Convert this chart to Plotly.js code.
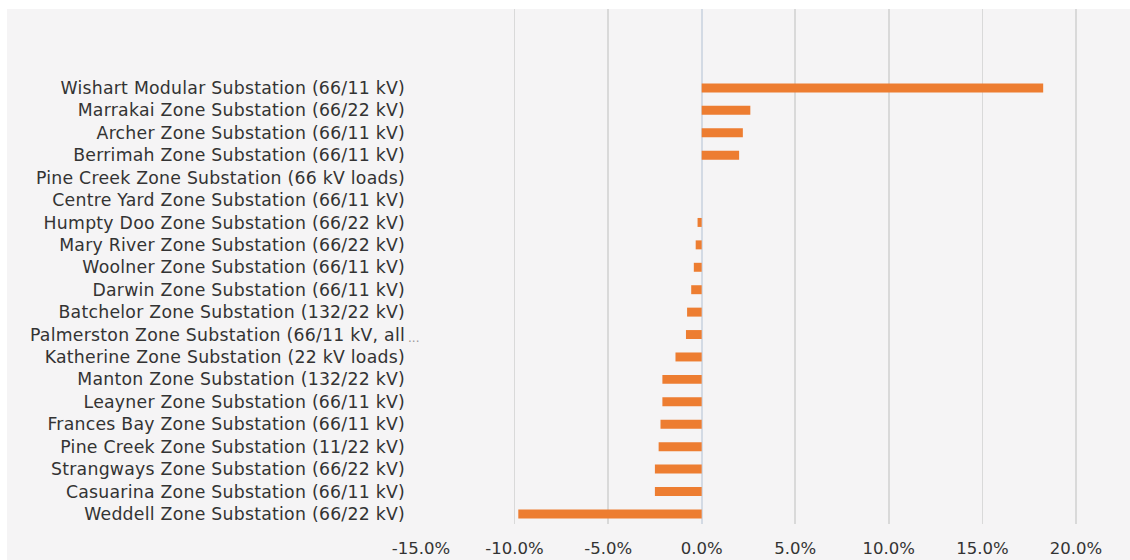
<!DOCTYPE html>
<html>
<head>
<meta charset="utf-8">
<script src="https://cdn.plot.ly/plotly-3.0.1.min.js"></script>
<style>
  html, body { margin: 0; padding: 0; background: #ffffff; }
  #chart { position: absolute; left: 7px; top: 9px; width: 1123px; height: 551px; }
  #chart .ytick text { letter-spacing: 0.25px; }
</style>
</head>
<body>
<div id="chart"></div>
<script>
// Substations, listed top to bottom
const substations = [
  "Wishart Modular Substation (66/11 kV)",
  "Marrakai Zone Substation (66/22 kV)",
  "Archer Zone Substation (66/11 kV)",
  "Berrimah Zone Substation (66/11 kV)",
  "Pine Creek Zone Substation (66 kV loads)",
  "Centre Yard Zone Substation (66/11 kV)",
  "Humpty Doo Zone Substation (66/22 kV)",
  "Mary River Zone Substation (66/22 kV)",
  "Woolner Zone Substation (66/11 kV)",
  "Darwin Zone Substation (66/11 kV)",
  "Batchelor Zone Substation (132/22 kV)",
  "Palmerston Zone Substation (66/11 kV, all",
  "Katherine Zone Substation (22 kV loads)",
  "Manton Zone Substation (132/22 kV)",
  "Leayner Zone Substation (66/11 kV)",
  "Frances Bay Zone Substation (66/11 kV)",
  "Pine Creek Zone Substation (11/22 kV)",
  "Strangways Zone Substation (66/22 kV)",
  "Casuarina Zone Substation (66/11 kV)",
  "Weddell Zone Substation (66/22 kV)"
];

// Change, in percent
const changePct = [
  18.25, 2.6, 2.2, 2.0, 0, 0, -0.22, -0.32, -0.42, -0.56,
  -0.78, -0.84, -1.4, -2.1, -2.1, -2.2, -2.3, -2.5, -2.5, -9.8
];

// Axis ticks
const tickValues = [-15, -10, -5, 0, 5, 10, 15, 20];
const tickLabels = ["-15.0%", "-10.0%", "-5.0%", "0.0%", "5.0%", "10.0%", "15.0%", "20.0%"];

const bg = "#f5f4f5";
const textColor = "#333333";

const trace = {
  type: "bar",
  orientation: "h",
  y: substations,
  x: changePct,
  marker: { color: "#ed7d31" },
  hoverinfo: "y+x"
};

const layout = {
  width: 1123,
  height: 551,
  paper_bgcolor: bg,
  plot_bgcolor: bg,
  margin: { l: 414, r: 0, t: 0, b: 36 },
  bargap: 0.6,
  showlegend: false,
  font: { family: "DejaVu Sans, sans-serif", color: textColor },
  xaxis: {
    range: [-15, 22.89],
    tickvals: tickValues,
    ticktext: tickLabels,
    showgrid: true,
    gridcolor: "#d9d9d9",
    gridwidth: 1.5,
    zeroline: true,
    zerolinecolor: "#d3dae4",
    zerolinewidth: 2,
    showline: false,
    ticks: "",
    ticklabelstandoff: 12,
    tickfont: { family: "DejaVu Sans, sans-serif", size: 16.5, color: textColor },
    fixedrange: true
  },
  yaxis: {
    type: "category",
    range: [19.45, -3.52],
    showgrid: false,
    zeroline: false,
    showline: false,
    ticks: "",
    ticklabelstandoff: 15,
    tickfont: { family: "DejaVu Sans, sans-serif", size: 17.3, color: textColor },
    fixedrange: true
  },
  annotations: [{
    // trailing ellipsis of the truncated Palmerston label
    xref: "paper", yref: "y",
    x: 0, y: substations[11],
    xanchor: "right", yanchor: "middle",
    xshift: 0, yshift: -3,
    text: "...",
    showarrow: false,
    font: { family: "DejaVu Sans, sans-serif", size: 12, color: "#9a9a9a" }
  }]
};

Plotly.newPlot("chart", [trace], layout, { displayModeBar: false, staticPlot: true });
</script>
</body>
</html>
